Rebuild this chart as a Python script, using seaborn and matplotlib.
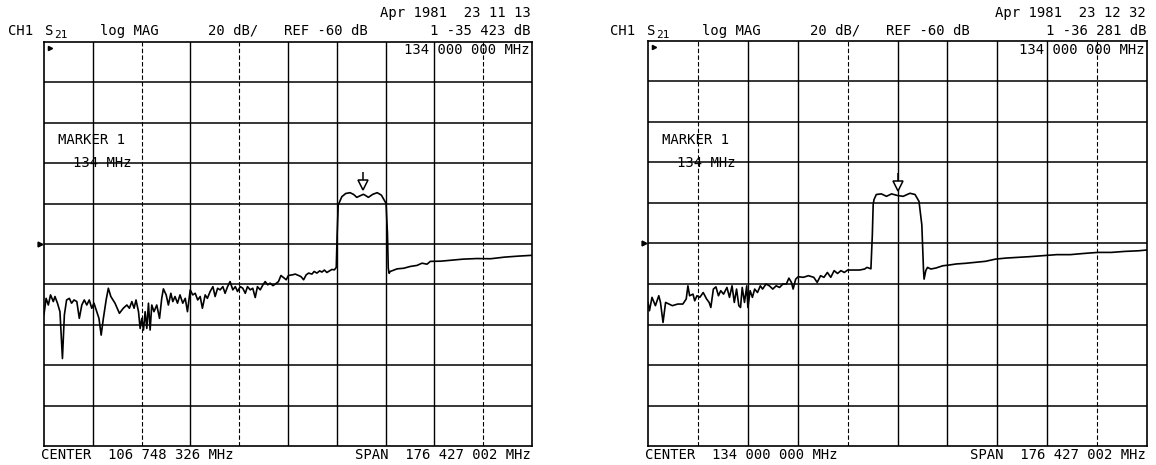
import matplotlib
matplotlib.use("Agg")
import matplotlib.pyplot as plt
import matplotlib.transforms as mtransforms
import pandas as pd
import seaborn as sns

# sweep settings
center_1 = 106.748326
center_2 = 134.000000
span = 176.427002
ref_db = -60
db_per_div = 20
marker_mhz = 134.0
marker_db_1 = -35.423
marker_db_2 = -36.281

# left trace (MHz, dB)
freq_1 = [18.5, 19.3, 20.1, 20.9, 21.9, 22.5, 23.4, 24.3, 25.2, 25.9, 26.7, 27.7, 28.5, 29.4,
          30.4, 31.3, 32.2, 33.1, 34.0, 34.9, 35.8, 36.6, 37.6, 38.4, 39.2, 40.0, 41.0, 41.8,
          42.7, 44.2, 45.8, 47.2, 48.5, 49.4, 50.3, 51.1, 51.8, 52.7, 53.3, 53.9, 54.5, 55.1,
          55.7, 56.3, 56.9, 57.5, 58.3, 59.3, 60.3, 61.1, 61.7, 62.7, 63.5, 64.4, 65.1, 65.9,
          66.8, 67.7, 68.7, 69.6, 70.4, 71.4, 72.3, 73.2, 74.1, 75.0, 75.8, 76.8, 77.6, 78.6,
          79.6, 80.4, 81.3, 82.2, 83.2, 84.0, 84.9, 85.8, 86.8, 87.7, 88.5, 89.5, 90.4, 91.3,
          92.1, 93.1, 94.0, 94.9, 95.7, 96.7, 97.7, 98.5, 99.4, 100.3, 101.3, 102.1, 103.3,
          104.2, 105.1, 106.1, 106.9, 108.2, 109.4, 110.6, 111.4, 112.4, 113.3, 114.2, 115.4,
          116.2, 117.2, 118.2, 119.0, 119.9, 120.8, 121.8, 122.6, 123.5, 124.2,
          124.5, 124.9, 126.2, 127.6, 129.2, 130.5, 131.6, 133.0, 134.0, 134.8, 135.8, 137.4,
          139.0, 140.5, 141.5, 142.2, 142.7, 143.0, 143.3, 143.7, 146.2, 148.6, 151.0, 153.4,
          155.2, 157.0, 158.2, 162.0, 166.0, 170.0, 175.0, 180.0, 185.0, 190.0, 195.0]
db_1 = [-95.1, -86.9, -90.2, -85.2, -88.5, -86.0, -89.3, -93.5, -116.7, -95.1, -87.7, -86.9,
        -89.3, -87.7, -88.5, -96.8, -90.2, -87.7, -90.2, -87.7, -91.8, -89.3, -93.5, -96.8,
        -105.1, -96.8, -87.7, -81.9, -86.0, -89.3, -94.3, -91.8, -90.2, -91.8, -88.5, -91.8,
        -87.7, -93.5, -101.8, -96.8, -102.6, -93.5, -101.8, -89.3, -102.6, -90.2, -93.5,
        -90.2, -96.8, -86.9, -82.2, -85.2, -90.2, -84.4, -88.5, -86.0, -89.3, -85.2, -89.3,
        -86.9, -93.5, -82.7, -85.2, -84.4, -87.7, -86.0, -91.8, -85.2, -86.9, -83.5, -81.1,
        -86.0, -81.9, -82.7, -81.1, -84.4, -81.1, -78.6, -82.7, -81.1, -83.5, -81.1, -81.9,
        -84.4, -81.1, -82.7, -81.9, -86.5, -81.1, -82.7, -80.2, -78.6, -80.2, -79.4, -80.6,
        -79.9, -78.6, -75.6, -76.6, -77.7, -75.6, -75.3, -74.9, -75.6, -76.1, -77.7, -75.3,
        -74.4, -74.9, -73.6, -74.4, -73.3, -73.9, -72.9, -74.1, -73.3, -72.6, -72.8, -71.6,
        -56.0, -40.7, -36.6, -35.0, -34.6, -35.5, -36.9, -36.0, -35.4, -36.0, -36.9, -35.4,
        -34.6, -35.8, -38.2, -39.9, -54.7, -72.0, -74.5, -73.6, -72.3, -72.0, -71.1, -70.6,
        -69.5, -70.0, -68.6, -68.5, -68.0, -67.5, -67.2, -67.3, -66.5, -66.0, -65.6]

# right trace (MHz, dB)
freq_2 = [45.8, 46.3, 47.2, 48.4, 49.6, 50.2, 51.1, 52.0, 53.2, 54.4, 56.3, 58.1, 59.3, 59.9,
          60.5, 61.7, 62.3, 63.1, 64.1, 65.3, 66.5, 67.4, 68.0, 68.9, 69.8, 70.7, 71.5, 72.5,
          73.7, 74.6, 75.5, 76.3, 77.1, 77.9, 78.5, 79.1, 79.9, 80.7, 81.1, 81.9, 82.7, 83.5,
          84.5, 85.5, 86.3, 87.5, 88.7, 89.9, 91.1, 92.3, 93.5, 94.7, 95.6, 96.5, 97.1, 98.0,
          98.9, 100.7, 102.5, 104.4, 105.6, 106.8, 108.0, 109.2, 110.4, 111.6, 112.8, 114.0,
          115.2, 116.4, 118.2, 120.6, 122.4, 123.2, 124.6,
          125.1, 125.4, 125.7, 126.5, 128.3, 130.1, 131.9, 134.0, 136.0, 138.4, 140.2, 141.6,
          142.6, 143.2, 143.4, 144.0, 144.6, 145.8, 147.6, 150.0, 152.4, 154.8, 157.9, 161.5,
          165.1, 168.7, 172.3, 175.9, 180.7, 185.5, 190.3, 195.1, 200.0, 204.8, 209.6, 214.4,
          219.2, 222.2]
db_2 = [-89.1, -93.2, -86.6, -90.7, -85.8, -89.1, -99.0, -89.1, -89.9, -90.7, -89.9, -89.9,
        -87.4, -80.9, -85.8, -85.0, -88.3, -85.8, -86.6, -84.2, -87.4, -89.1, -91.6, -82.5,
        -81.4, -85.8, -83.3, -85.0, -81.7, -86.6, -80.9, -89.1, -82.5, -90.7, -91.6, -81.7,
        -89.1, -80.9, -91.6, -83.3, -86.6, -82.5, -84.2, -80.9, -82.5, -80.0, -80.9, -82.5,
        -80.9, -81.7, -80.0, -80.0, -77.1, -79.2, -82.5, -77.6, -76.4, -76.7, -75.9, -76.7,
        -79.2, -75.9, -76.7, -74.3, -76.7, -73.4, -74.8, -73.4, -74.3, -73.1, -73.1, -73.1,
        -72.6, -71.8, -72.5,
        -55.8, -40.8, -38.3, -35.8, -35.5, -36.7, -35.5, -36.3, -36.7, -35.2, -35.8, -39.2,
        -50.8, -73.3, -77.6, -73.4, -71.8, -72.6, -72.1, -71.0, -70.6, -70.1, -69.8, -69.3,
        -68.8, -67.7, -67.2, -66.9, -66.5, -66.0, -65.5, -65.5, -64.9, -64.4, -64.4, -63.9,
        -63.6, -63.2]

headers_1 = ["Apr 1981  23 11 13", "1 -35 423 dB", "134 000 000 MHz",
             "CENTER  106 748 326 MHz", "SPAN  176 427 002 MHz"]
headers_2 = ["Apr 1981  23 12 32", "1 -36 281 dB", "134 000 000 MHz",
             "CENTER  134 000 000 MHz", "SPAN  176 427 002 MHz"]

sns.set_theme(style="white")
plt.rcParams["font.family"] = ["DejaVu Sans Mono"]

W, H = 1156, 465
fig = plt.figure(figsize=(W / 100, H / 100), dpi=100)


def px(x, y):
    return x / W, 1 - y / H


def txt(x, y, s, size=10, ha="left"):
    fig.text(*px(x, y), s, ha=ha, va="center", fontsize=size, color="black")


def panel(box, center, freqs, dbs, marker_db, dashed, x0, x1, heads):
    l, t, r, b = box
    ax = fig.add_axes([l / W, 1 - b / H, (r - l) / W, (b - t) / H])
    df = pd.DataFrame({"MHz": freqs, "dB": dbs})
    sns.lineplot(data=df, x="MHz", y="dB", ax=ax, color="black", lw=1.2,
                 sort=False, estimator=None)
    start, stop = center - span / 2, center + span / 2
    ax.set_xlim(start, stop)
    ax.set_ylim(ref_db - 5 * db_per_div, ref_db + 5 * db_per_div)
    for i in range(1, 10):
        ls = (0, (4, 2)) if i in dashed else "-"
        ax.axvline(start + i * span / 10, color="black", lw=1.0 if i not in dashed else 0.8, ls=ls)
        ax.axhline(ref_db - 5 * db_per_div + i * db_per_div, color="black", lw=1.1)
    ax.set_xticks([])
    ax.set_yticks([])
    ax.set_xlabel("")
    ax.set_ylabel("")
    for s in ax.spines.values():
        s.set_color("black")
        s.set_linewidth(1.2)
    # marker symbol above the trace
    up = mtransforms.ScaledTranslation(0, 0.09, fig.dpi_scale_trans)
    ax.plot([marker_mhz], [marker_db], marker="v", ms=7, mfc="white", mec="black",
            mew=1.1, transform=ax.transData + up, clip_on=False)
    up2 = mtransforms.ScaledTranslation(0, 0.18, fig.dpi_scale_trans)
    ax.plot([marker_mhz], [marker_db], marker="|", ms=6, color="black", mew=1.1,
            transform=ax.transData + up2, clip_on=False)
    # reference level arrow on the left edge
    ax.plot([-0.008], [ref_db], marker=">", ms=3.5, color="black", clip_on=False,
            transform=ax.get_yaxis_transform())
    ax.plot([0.012], [0.985], marker=">", ms=3, color="black",
            transform=ax.transAxes)

    # screen annotations
    txt(r - 1, 13, heads[0], ha="right")
    txt(x0, 31, "CH1")
    txt(x0 + 37, 31, "S")
    txt(x0 + 46, 35, "21", size=8)
    txt(x0 + 92, 31, "log MAG")
    txt(x0 + 200, 31, "20 dB/")
    txt(x0 + 276, 31, "REF -60 dB")
    txt(r - 1, 31, heads[1], ha="right")
    txt(r - 2, 50, heads[2], ha="right")
    txt(l + 14, 140, "MARKER 1")
    txt(l + 29, 163, "134 MHz")
    txt(l - 3, 455, heads[3])
    txt(r - 1, 455, heads[4], ha="right")
    return ax


panel((44, 42, 532, 446), center_1, freq_1, db_1, marker_db_1, {2, 4, 9}, 8, 532, headers_1)
panel((648, 41, 1147, 446), center_2, freq_2, db_2, marker_db_2, {1, 4, 9}, 610, 1147, headers_2)

fig.savefig("out.png", dpi=100, facecolor="white")
